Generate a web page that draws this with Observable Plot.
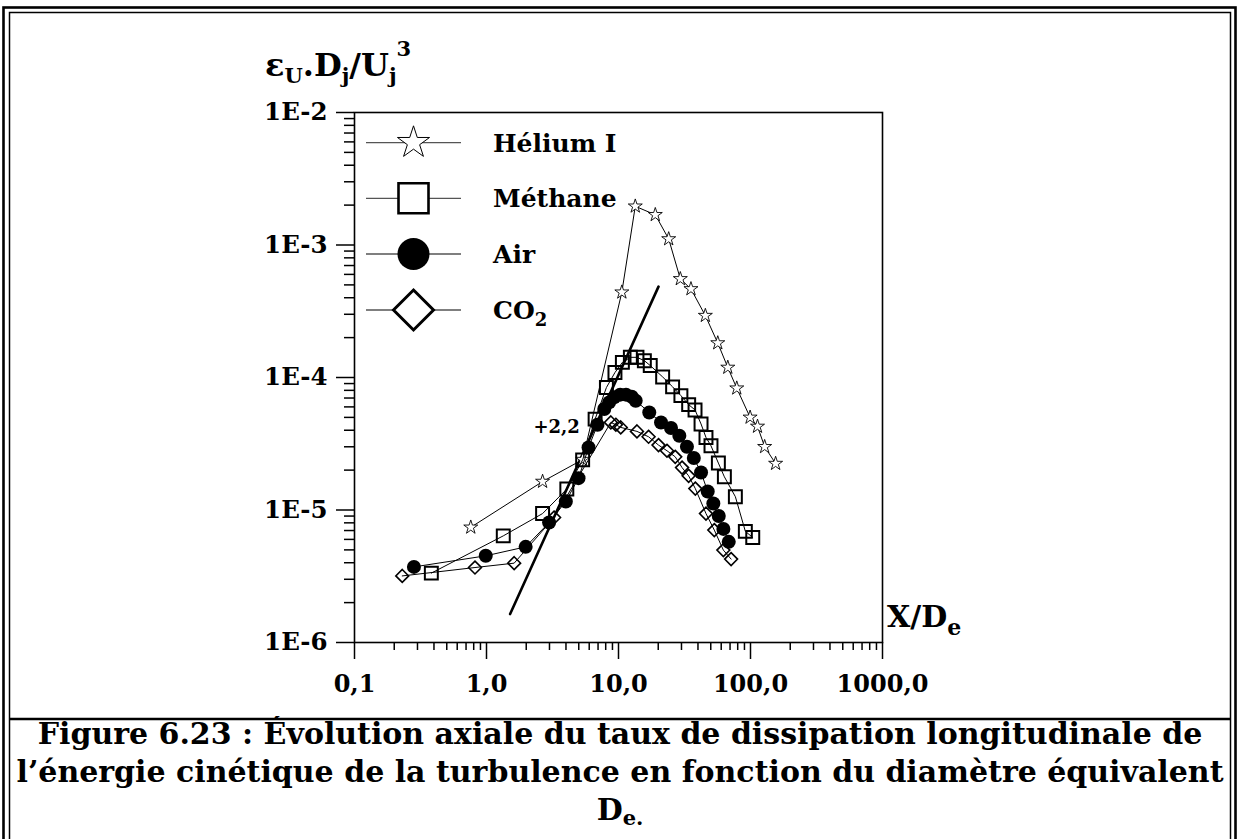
<!DOCTYPE html>
<html><head><meta charset="utf-8">
<script src="https://cdn.jsdelivr.net/npm/d3@7"></script>
<script src="https://cdn.jsdelivr.net/npm/@observablehq/plot@0.6"></script>
<style>
html,body{margin:0;padding:0;background:#fff;}
body{width:1239px;height:839px;position:relative;overflow:hidden;}
#chart{position:absolute;left:0;top:0;}
#overlay{position:absolute;left:0;top:0;pointer-events:none;}
#overlay text{font-family:"DejaVu Serif",serif;font-weight:bold;fill:#000;}
</style></head>
<body>
<div id="chart"></div>
<svg id="overlay" width="1239" height="839"></svg>
<script>
// ---- data ----
const heliumX = [0.76, 2.66, 5.35, 10.6, 13.4, 19.0, 24.0, 29.4, 35.4, 45.5, 56.5, 67.3, 78.7, 99.3, 113, 128, 155];
const heliumY = [7.4e-6, 1.64e-5, 2.4e-5, 4.4e-4, 1.96e-3, 1.69e-3, 1.11e-3, 5.55e-4, 4.66e-4, 2.93e-4, 1.82e-4, 1.19e-4, 8.3e-5, 5.0e-5, 4.27e-5, 3.0e-5, 2.24e-5];

const methaneX = [0.382, 1.34, 2.66, 4.06, 5.35, 6.65, 8.1, 9.4, 10.7, 12.3, 13.8, 15.7, 17.4, 21.6, 25.7, 29.7, 34.0, 38.0, 42.2, 46.0, 50.2, 57.1, 63.4, 76.8, 91.4, 104];
const methaneY = [3.34e-6, 6.38e-6, 9.4e-6, 1.44e-5, 2.39e-5, 4.85e-5, 8.4e-5, 1.09e-4, 1.30e-4, 1.42e-4, 1.42e-4, 1.34e-4, 1.23e-4, 1.01e-4, 8.5e-5, 7.3e-5, 6.24e-5, 5.69e-5, 4.46e-5, 3.53e-5, 3.05e-5, 2.26e-5, 1.78e-5, 1.26e-5, 6.9e-6, 6.2e-6];

const airX = [0.282, 0.987, 1.98, 2.98, 3.99, 4.98, 5.93, 6.93, 7.8, 8.49, 9.27, 10.3, 11.4, 12.6, 13.5, 17.1, 21.0, 25.0, 28.9, 33.0, 37.2, 42.2, 47.4, 52.3, 57.5, 62.3, 68.4];
const airY = [3.72e-6, 4.51e-6, 5.27e-6, 8.05e-6, 1.16e-5, 1.74e-5, 2.96e-5, 4.4e-5, 5.78e-5, 6.49e-5, 7.08e-5, 7.42e-5, 7.42e-5, 7.16e-5, 6.68e-5, 5.45e-5, 4.58e-5, 4.16e-5, 3.63e-5, 3.0e-5, 2.47e-5, 1.92e-5, 1.38e-5, 1.12e-5, 9.0e-6, 7.2e-6, 5.75e-6];

const co2X = [0.23, 0.818, 1.62, 3.25, 8.75, 9.55, 10.4, 13.8, 16.9, 20.1, 23.3, 26.9, 30.3, 34.0, 38.2, 46.0, 53.2, 62.3, 71.3];
const co2Y = [3.18e-6, 3.68e-6, 3.97e-6, 8.77e-6, 4.58e-5, 4.4e-5, 4.2e-5, 3.92e-5, 3.57e-5, 3.09e-5, 2.8e-5, 2.52e-5, 2.09e-5, 1.81e-5, 1.45e-5, 9.4e-6, 7.05e-6, 4.98e-6, 4.26e-6];

const slopeX = [1.51, 20.1];
const slopeY = [1.64e-6, 4.85e-4];
const slopeLabel = {x: 5.1, y: 4.2e-5, text: "+2,2"};

const xTicks = [0.1, 1, 10, 100, 1000];
const xTickLabels = ["0,1", "1,0", "10,0", "100,0", "1000,0"];
const yTicks = [1e-6, 1e-5, 1e-4, 1e-3, 1e-2];
const yTickLabels = ["1E-6", "1E-5", "1E-4", "1E-3", "1E-2"];

const seriesNames = ["Hélium I", "Méthane", "Air", "CO2"];
const captionLines = [
  "Figure 6.23 : Évolution axiale du taux de dissipation longitudinale de",
  "l’énergie cinétique de la turbulence en fonction du diamètre équivalent"
];

// ---- helpers ----
const zip = (xs, ys) => xs.map((x, i) => [x, ys[i]]);
const minorTicks = (lo, hi) => {
  const out = [];
  for (let e = lo; e < hi; e++) for (let m = 2; m <= 9; m++) out.push(m * Math.pow(10, e));
  return out;
};
const xLab = new Map(xTicks.map((t, i) => [t, xTickLabels[i]]));
const yLab = new Map(yTicks.map((t, i) => [t, yTickLabels[i]]));

const he = zip(heliumX, heliumY), me = zip(methaneX, methaneY), ai = zip(airX, airY), co = zip(co2X, co2Y);

const plot = Plot.plot({
  width: 1239, height: 720,
  marginLeft: 354, marginRight: 357, marginTop: 112, marginBottom: 78,
  x: {type: "log", domain: [0.1, 1000]},
  y: {type: "log", domain: [1e-6, 1e-2]},
  style: {fontFamily: "DejaVu Serif", fontWeight: "bold", fontSize: "24px", color: "#000", background: "transparent", overflow: "visible"},
  marks: [
    Plot.axisX(minorTicks(-1, 3), {tickSize: 8, strokeWidth: 1.5, tickFormat: () => "", label: null}),
    Plot.axisX(xTicks, {tickSize: 17, strokeWidth: 1.5, tickPadding: 15, tickFormat: d => xLab.get(d), label: null, fontSize: 24, fontWeight: "bold"}),
    Plot.axisY(minorTicks(-6, -2), {tickSize: 10, strokeWidth: 1.5, tickFormat: () => "", label: null}),
    Plot.axisY(yTicks, {tickSize: 18, strokeWidth: 1.5, tickPadding: 9, tickFormat: d => yLab.get(d), label: null, fontSize: 24.5, fontWeight: "bold"}),
    Plot.frame({stroke: "#000", strokeWidth: 1.6}),
    Plot.line(zip(slopeX, slopeY), {stroke: "#000", strokeWidth: 2.6}),
    Plot.line(he, {stroke: "#000", strokeWidth: 1}),
    Plot.dot(he, {symbol: "star", r: 4.4, stroke: "#000", fill: "white", strokeWidth: 0.9}),
    Plot.line(me, {stroke: "#000", strokeWidth: 1}),
    Plot.dot(me, {symbol: "square", r: 7.3, stroke: "#000", fill: "none", strokeWidth: 2}),
    Plot.line(co, {stroke: "#000", strokeWidth: 1}),
    Plot.dot(co, {symbol: "diamond2", r: 5.8, stroke: "#000", fill: "none", strokeWidth: 1.6}),
    Plot.line(ai, {stroke: "#000", strokeWidth: 1}),
    Plot.dot(ai, {r: 7, fill: "#000", stroke: "none"}),
    Plot.text([slopeLabel], {x: "x", y: "y", text: "text", textAnchor: "end", fontSize: 18, fontWeight: "bold"})
  ]
});
document.getElementById("chart").appendChild(plot);

// ---- overlay: borders, axis titles, legend, caption ----
const svg = d3.select("#overlay");
svg.append("rect").attr("x", 3.5).attr("y", 7.5).attr("width", 1232).attr("height", 860)
  .attr("fill", "none").attr("stroke", "#000").attr("stroke-width", 2.6);
svg.append("rect").attr("x", 9.5).attr("y", 12.5).attr("width", 1221).attr("height", 860)
  .attr("fill", "none").attr("stroke", "#000").attr("stroke-width", 1.5);
svg.append("line").attr("x1", 9.5).attr("x2", 1230.5).attr("y1", 719).attr("y2", 719)
  .attr("stroke", "#000").attr("stroke-width", 2.5);

// y title
const yt = svg.append("text").attr("x", 265).attr("y", 76).attr("font-size", 32);
yt.append("tspan").text("ε");
yt.append("tspan").attr("font-size", 21).attr("dy", 7).text("U");
yt.append("tspan").attr("dy", -7).text(".D");
yt.append("tspan").attr("font-size", 21).attr("dy", 7).text("j");
yt.append("tspan").attr("dy", -7).text("/U");
yt.append("tspan").attr("font-size", 21).attr("dy", 7).text("j");
yt.append("tspan").attr("font-size", 21).attr("dy", -27).text("3");

// x title
const xt = svg.append("text").attr("x", 887).attr("y", 627).attr("font-size", 30);
xt.append("tspan").text("X/D");
xt.append("tspan").attr("font-size", 22).attr("dy", 8).text("e");

// legend
const legRows = [142.7, 198.3, 254, 310];
const legSyms = [
  {type: d3.symbolStar, size: 320, fill: "white", sw: 1},
  {type: d3.symbolSquare, size: 900, fill: "white", sw: 2.6},
  {type: d3.symbolCircle, size: 804, fill: "#000", sw: 0},
  {type: d3.symbolDiamond2, size: 1020, fill: "white", sw: 3}
];
seriesNames.forEach((name, i) => {
  const y = legRows[i];
  svg.append("line").attr("x1", 366).attr("x2", 461).attr("y1", y).attr("y2", y)
    .attr("stroke", "#555").attr("stroke-width", 1.3);
  const s = legSyms[i];
  svg.append("path").attr("d", d3.symbol(s.type, s.size)())
    .attr("transform", `translate(413.5,${y})`)
    .attr("fill", s.fill).attr("stroke", s.sw ? "#000" : "none").attr("stroke-width", s.sw);
  const t = svg.append("text").attr("x", 493).attr("y", y + 9).attr("font-size", 25);
  if (name === "CO2") {
    t.append("tspan").text("CO");
    t.append("tspan").attr("font-size", 18).attr("dy", 7).text("2");
  } else t.text(name);
});

// caption
captionLines.forEach((line, i) => {
  svg.append("text").attr("x", 620).attr("y", 744 + i * 38).attr("text-anchor", "middle")
    .attr("font-size", 30).text(line);
});
const c3 = svg.append("text").attr("x", 620).attr("y", 820).attr("text-anchor", "middle").attr("font-size", 30);
c3.append("tspan").text("D");
c3.append("tspan").attr("font-size", 21).attr("dy", 5).text("e.");
</script>
</body></html>
